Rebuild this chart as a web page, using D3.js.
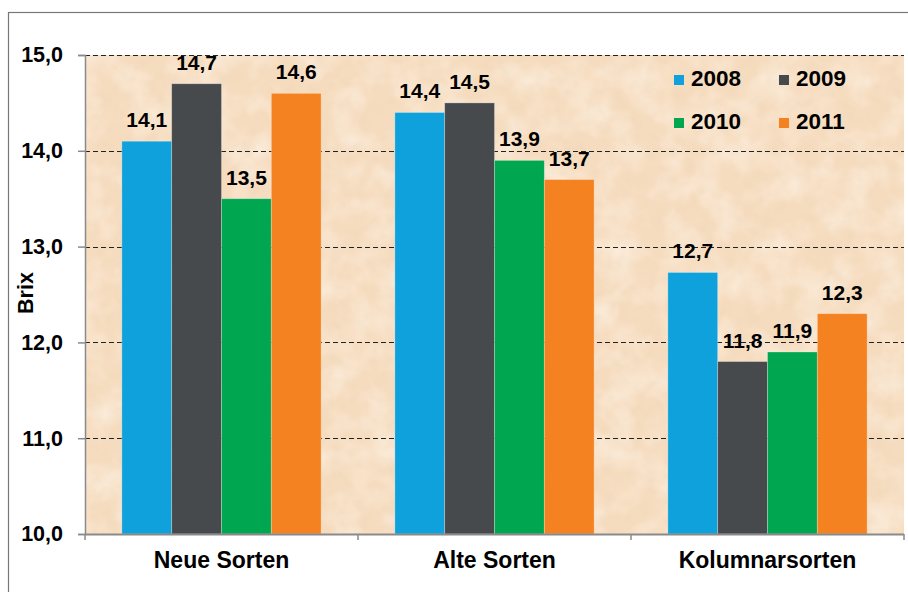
<!DOCTYPE html>
<html>
<head>
<meta charset="utf-8">
<script src="https://cdn.jsdelivr.net/npm/d3@7"></script>
<style>
  html, body { margin: 0; padding: 0; background: #fff; }
  svg { display: block; }
  text { font-family: "Liberation Sans", Arial, Helvetica, sans-serif; font-weight: bold; fill: #000; }
</style>
</head>
<body>
<svg id="chart" width="908" height="592"></svg>
<script>
const categories = ["Neue Sorten", "Alte Sorten", "Kolumnarsorten"];
const years = ["2008", "2009", "2010", "2011"];
const values2008 = [14.1, 14.4, 12.73];
const values2009 = [14.7, 14.5, 11.8];
const values2010 = [13.5, 13.9, 11.9];
const values2011 = [14.6, 13.7, 12.3];
const yTicks = [10, 11, 12, 13, 14, 15];
const yLabel = "Brix";
const colors = ["#0ea1dc", "#474a4c", "#00a650", "#f58220"];

const series = [values2008, values2009, values2010, values2011];
const data = categories.map((c, i) => ({
  category: c,
  values: years.map((y, j) => ({ year: y, value: series[j][i], color: colors[j] }))
}));

const locale = d3.formatLocale({ decimal: ",", thousands: ".", grouping: [3], currency: ["", " €"] });
const fmt = locale.format(".1f");

const svg = d3.select("#chart");
const pL = 85, pR = 904, pT = 55, pB = 534;

// outer frame
svg.append("rect").attr("x", 8.5).attr("y", 12.5).attr("width", 940).attr("height", 620)
  .attr("fill", "#fff").attr("stroke", "#777").attr("stroke-width", 1.2);

// texture filters
const defs = svg.append("defs");
const f = defs.append("filter").attr("id", "paper").attr("x", 0).attr("y", 0).attr("width", 1).attr("height", 1);
f.append("feTurbulence").attr("type", "fractalNoise").attr("baseFrequency", "0.07").attr("numOctaves", 4).attr("seed", 7).attr("result", "n");
f.append("feColorMatrix").attr("in", "n").attr("type", "matrix")
  .attr("values", "0 0 0 0 0.84  0 0 0 0 0.66  0 0 0 0 0.46  0.8 0 0 0 -0.36");
const f2 = defs.append("filter").attr("id", "paper2").attr("x", 0).attr("y", 0).attr("width", 1).attr("height", 1);
f2.append("feTurbulence").attr("type", "fractalNoise").attr("baseFrequency", "0.03").attr("numOctaves", 3).attr("seed", 3).attr("result", "n");
f2.append("feColorMatrix").attr("in", "n").attr("type", "matrix")
  .attr("values", "0 0 0 0 1  0 0 0 0 0.96  0 0 0 0 0.9  0 1.0 0 0 -0.38");

svg.append("rect").attr("x", pL).attr("y", pT).attr("width", pR - pL).attr("height", pB - pT).attr("fill", "#f6dcbf");
svg.append("rect").attr("x", pL).attr("y", pT).attr("width", pR - pL).attr("height", pB - pT).attr("filter", "url(#paper2)");
svg.append("rect").attr("x", pL).attr("y", pT).attr("width", pR - pL).attr("height", pB - pT).attr("filter", "url(#paper)");

const x0 = d3.scaleBand().domain(categories).range([pL, pR]).paddingInner(0).paddingOuter(0);
const x1 = d3.scaleBand().domain(years).range([0, x0.bandwidth()]).paddingInner(0).paddingOuter(0.74);
const y = d3.scaleLinear().domain([10, 15]).range([pB, pT]);

// gridlines
svg.append("g").selectAll("line").data(yTicks.filter(t => t > 10)).join("line")
  .attr("x1", pL).attr("x2", pR)
  .attr("y1", d => Math.round(y(d)) + 0.5).attr("y2", d => Math.round(y(d)) + 0.5)
  .attr("stroke", "#222").attr("stroke-width", 1.1).attr("stroke-dasharray", "5,3");

// bars
const groups = svg.append("g").selectAll("g").data(data).join("g")
  .attr("transform", d => `translate(${x0(d.category)},0)`);
groups.selectAll("rect").data(d => d.values).join("rect")
  .attr("x", d => x1(d.year)).attr("width", x1.bandwidth())
  .attr("y", d => y(d.value)).attr("height", d => pB - y(d.value))
  .attr("fill", d => d.color)
  .attr("stroke", "rgba(255,255,255,0.35)").attr("stroke-width", 0.8);
groups.selectAll("text").data(d => d.values).join("text")
  .attr("x", d => x1(d.year) + x1.bandwidth() / 2)
  .attr("y", d => y(d.value) - 14)
  .attr("text-anchor", "middle").attr("font-size", 21)
  .text(d => fmt(d.value));

// y axis
const yAxis = svg.append("g").attr("transform", `translate(${pL},0)`)
  .call(d3.axisLeft(y).tickValues(yTicks).tickFormat(fmt).tickSize(7).tickPadding(15));
yAxis.select(".domain").attr("stroke", "#8a8a8a").attr("stroke-width", 1.5);
yAxis.selectAll(".tick line").attr("stroke", "#8a8a8a").attr("stroke-width", 1.5);
yAxis.selectAll(".tick text").attr("font-size", 21.5).attr("font-family", "Liberation Sans, Arial, sans-serif").attr("font-weight", "bold").attr("fill", "#000");

// x axis
const xAxis = svg.append("g").attr("transform", `translate(0,${pB})`);
xAxis.append("line").attr("x1", pL).attr("x2", pR).attr("y1", 0.5).attr("y2", 0.5).attr("stroke", "#8a8a8a").attr("stroke-width", 1.8);
const bounds = categories.map(c => x0(c)).concat([x0(categories[categories.length - 1]) + x0.bandwidth()]);
xAxis.selectAll("line.tk").data(bounds).join("line").attr("class", "tk")
  .attr("x1", d => d).attr("x2", d => d).attr("y1", 0).attr("y2", 6).attr("stroke", "#8a8a8a").attr("stroke-width", 1.5);
xAxis.selectAll("text").data(categories).join("text")
  .attr("x", d => x0(d) + x0.bandwidth() / 2).attr("y", 34)
  .attr("text-anchor", "middle").attr("font-size", 23).text(d => d);

// y label
svg.append("text").attr("transform", "translate(33,293) rotate(-90)")
  .attr("text-anchor", "middle").attr("font-size", 21.5).text(yLabel);

// legend
const legend = svg.append("g");
const lx = [674, 779], ly = [75, 118];
years.forEach((yr, i) => {
  const gx = lx[i % 2], gy = ly[Math.floor(i / 2)];
  legend.append("rect").attr("x", gx).attr("y", gy).attr("width", 10).attr("height", 10).attr("fill", colors[i]);
  legend.append("text").attr("x", gx + 17).attr("y", gy + 11).attr("font-size", 22.5).text(yr);
});
</script>
</body>
</html>
